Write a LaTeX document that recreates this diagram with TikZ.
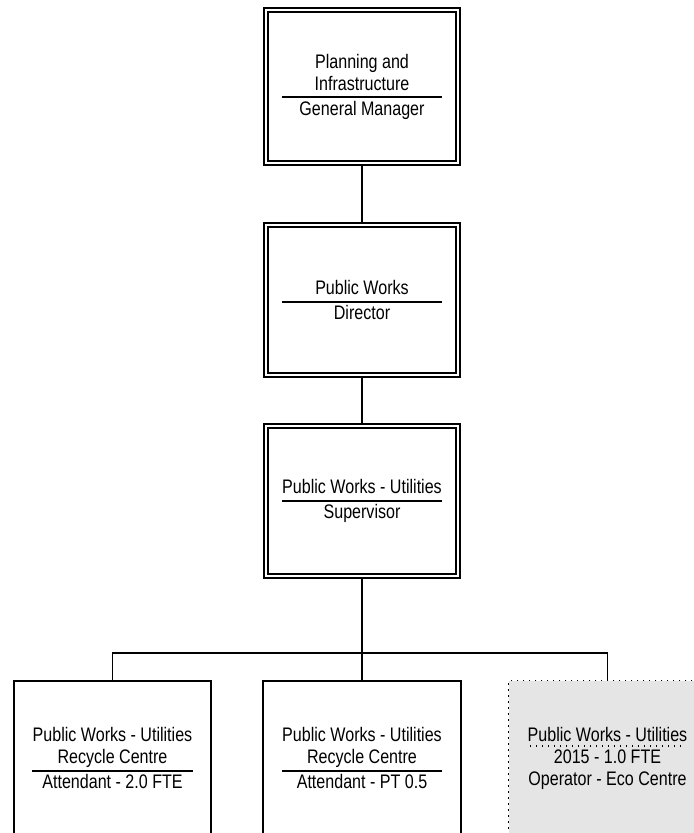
\documentclass[tikz,border=0pt]{standalone}
\usepackage{fontspec}
\setmainfont[FakeStretch=0.82]{Liberation Sans}
\usetikzlibrary{positioning,calc}

% rule under the unit name, and the dotted one for a vacant post
\newcommand{\divline}{\rule{80pt}{0.9pt}}
\newcommand{\dotline}{\hbox to 80pt{\leaders\hbox to 3pt{\hss\vrule width 0.9pt height 0.9pt depth 0pt\hss}\hfill}}

\begin{document}
\begin{tikzpicture}[
    x=0.5pt, y=-0.5pt,
    post/.style={rectangle, draw=black, double, double distance=1.2pt, line width=0.8pt, outer sep=1.4pt, minimum width=96.25pt, minimum height=75.25pt, align=center, font=\fontsize{9.8}{11}\selectfont},
    staff/.style={rectangle, draw=black, line width=0.85pt, minimum width=98.75pt, minimum height=77.25pt, align=center, font=\fontsize{9.8}{11}\selectfont},
    vacant/.style={staff, fill=gray!20, dash pattern=on 0.8pt off 2.2pt, line width=0.7pt},
    link/.style={draw=black, line width=0.85pt}
]
\clip (0,0) rectangle (694,833);

% Management chain
\node[post, minimum height=76.75pt] (gm) at (362,86.5) {Planning and\\Infrastructure\\[-7pt]\divline\\[-2.5pt]General Manager};
\node[post] (dir) at (362,300) {Public Works\\[-7pt]\divline\\[-2.5pt]Director};
\node[post] (sup) at (362,501) {Public Works - Utilities\\[-7pt]\divline\\[-2.5pt]Supervisor};

% Staff under the supervisor
\node[staff] (rcA) at (112.5,758) {Public Works - Utilities\\Recycle Centre\\[-7pt]\divline\\[-2.5pt]Attendant - 2.0 FTE};
\node[staff] (rcB) at (362,758) {Public Works - Utilities\\Recycle Centre\\[-7pt]\divline\\[-2.5pt]Attendant - PT 0.5};
\node[vacant] (eco) at (607.5,758) {Public Works - Utilities\\[-8pt]\dotline\\[-3pt]2015 - 1.0 FTE\\Operator - Eco Centre};

% Reporting lines
\coordinate (bus) at (362,653);
\draw[link] (gm.south) -- (dir.north);
\draw[link] (dir.south) -- (sup.north);
\foreach \n in {rcA,rcB,eco}
    \draw[link] (sup.south) |- (bus -| \n.north) -- (\n.north);

\end{tikzpicture}
\end{document}
